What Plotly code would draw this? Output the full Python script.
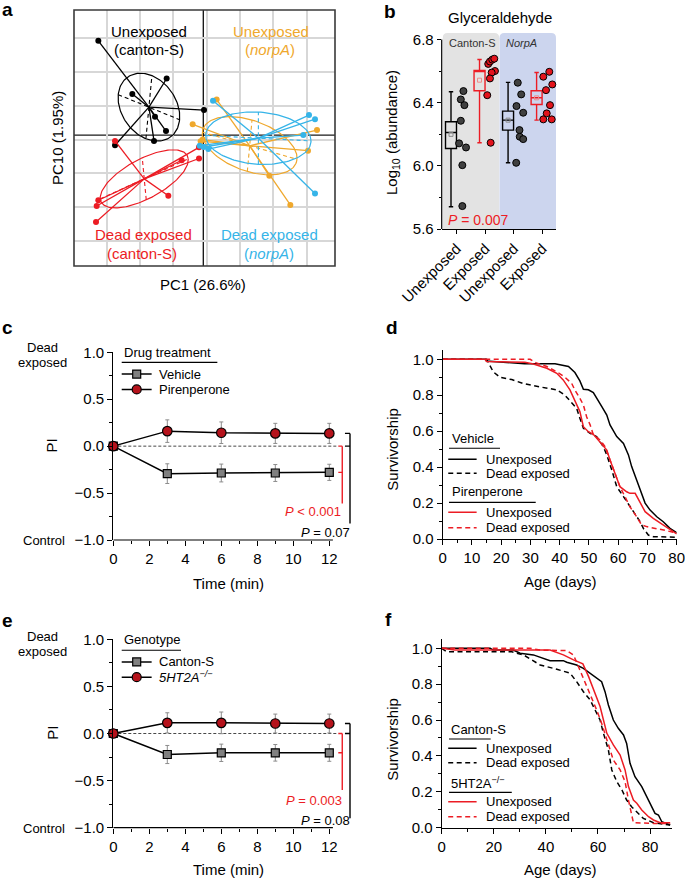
import numpy as np
import plotly.graph_objects as go

W, H = 685, 879
FONT = "Liberation Sans, Arial, Helvetica, sans-serif"
BLACK = "#000000"
RED = "#EC1C24"
ORANGE = "#EFA82D"
BLUE = "#36B4E8"
DOT_RED = "#E3141C"
DOT_GRAY = "#404040"
PIREN_FILL = "#B5121B"
VEH_FILL = "#808080"
ERR_GRAY = "#8C8C8C"

# ---------------- panel a : PCA scores ----------------
a_pc1_unexposed_canton = [-3.15, -1.10, -2.13, 0.02, -1.45, -1.12, -1.48, -2.65]
a_pc10_unexposed_canton = [2.78, 1.67, 1.21, 0.74, 0.54, 0.12, -0.17, -0.30]
a_pc1_dead_canton = [-2.65, -0.65, -0.13, -0.13, -1.05, -3.15, -3.20, -3.22]
a_pc10_dead_canton = [-0.17, -0.74, -0.69, -0.36, -1.79, -1.92, -2.09, -2.56]
a_pc1_unexposed_norpa = [0.40, -0.32, 3.41, 3.14, 1.98, 2.61, -0.08, -0.02]
a_pc10_unexposed_norpa = [1.05, 0.32, 0.15, -0.46, -1.20, -2.06, -0.18, -0.13]
a_pc1_dead_norpa = [0.29, 3.17, 3.35, 3.00, 3.35, 0.15, 0.01, -0.11]
a_pc10_dead_norpa = [1.01, 0.59, 0.47, 0.00, -1.72, -0.41, -0.35, -0.31]
# dispersion ellipses: two conjugate semi-diameters (PC1, PC10)
a_ell_unexposed_canton = [(0.92, -0.37), (0.09, 0.93)]
a_ell_dead_canton = [(1.32, 0.59), (-0.06, 0.62)]
a_ell_unexposed_norpa = [(1.42, -0.40), (0.07, 0.76)]
a_ell_dead_norpa = [(1.58, -0.08), (0.00, 0.77)]

# ---------------- panel b : glyceraldehyde ----------------
b_categories = ["Unexposed", "Exposed", "Unexposed", "Exposed"]
b_q1 = [6.110, 6.475, 6.226, 6.388]
b_median = [6.211, 6.597, 6.289, 6.431]
b_q3 = [6.279, 6.603, 6.346, 6.475]
b_lower = [5.741, 6.146, 6.019, 6.289]
b_upper = [6.469, 6.673, 6.528, 6.591]
b_mean = [6.199, 6.542, 6.289, 6.430]
b_canton_unexposed = [6.473, 6.420, 6.384, 6.285, 6.142, 6.116, 6.004, 5.745]
b_canton_exposed = [6.645, 6.660, 6.672, 6.678, 6.600, 6.590, 6.553, 6.447, 6.146]
b_norpa_unexposed = [6.526, 6.452, 6.378, 6.336, 6.226, 6.184, 6.169, 6.019]
b_norpa_exposed = [6.595, 6.564, 6.515, 6.479, 6.384, 6.332, 6.294, 6.294]
b_jitter_canton_unexposed = [0.235, 0.144, 0.27, 0.144, 0.084, 0.326, 0.197, 0.197]
b_jitter_canton_exposed = [0.105, 0.165, 0.245, 0.316, 0.34, 0.225, 0.165, 0.07, 0.19]
b_jitter_norpa_unexposed = [0.14, 0.26, 0.095, 0.33, 0.2, 0.21, 0.33, 0.085]
b_jitter_norpa_exposed = [0.245, 0.035, 0.35, 0.13, 0.27, 0.155, 0.035, 0.33]

# ---------------- panels c, e : preference index ----------------
time_min = [0, 3, 6, 9, 12]
pi_vehicle = [0, -0.293, -0.286, -0.286, -0.279]
pi_vehicle_err = [0, 0.105, 0.095, 0.090, 0.086]
pi_pirenperone = [0, 0.160, 0.143, 0.136, 0.136]
pi_pirenperone_err = [0, 0.120, 0.115, 0.107, 0.107]
pi_canton = [0, -0.223, -0.205, -0.205, -0.205]
pi_canton_err = [0, 0.096, 0.092, 0.088, 0.090]
pi_5ht2a = [0, 0.113, 0.113, 0.106, 0.106]
pi_5ht2a_err = [0, 0.107, 0.115, 0.100, 0.100]

# ---------------- panel d : survivorship (drug) ----------------
d_veh_unexp_day = [0, 14.5, 15, 28, 38.4, 41, 43, 45.2, 46.9, 48.1, 49.8, 51.5, 52.6, 54.4, 56.1, 57.2,
                   59.5, 61.8, 63.5, 64.6, 66.3, 67.5, 69.2, 70.9, 73.2, 75.4, 77.7, 80]
d_veh_unexp_surv = [1.0, 1.0, 0.99, 0.975, 0.975, 0.965, 0.96, 0.926, 0.88, 0.833, 0.83, 0.815, 0.783,
                    0.737, 0.69, 0.635, 0.57, 0.532, 0.468, 0.403, 0.328, 0.273, 0.2, 0.161, 0.124,
                    0.096, 0.059, 0.035]
d_veh_dead_day = [0, 15, 17.3, 19.6, 23.6, 27.6, 33.3, 39, 41.8, 44.1, 45.8, 46.9, 48.1, 50.4, 52.6,
                  54.9, 56.1, 57.8, 59.5, 61.8, 64, 65.8, 67.5, 68.6, 70.3, 72, 80]
d_veh_dead_surv = [1.0, 1.0, 0.93, 0.9, 0.887, 0.865, 0.846, 0.83, 0.8, 0.76, 0.727, 0.672, 0.616,
                   0.588, 0.57, 0.514, 0.468, 0.384, 0.291, 0.236, 0.18, 0.134, 0.096, 0.059, 0.022,
                   0.013, 0.01]
d_pir_unexp_day = [0, 14.5, 15, 28.1, 31, 35.6, 39, 41.2, 43.5, 45.2, 46.9, 48.1, 49.8, 51.5, 53.2,
                   54.9, 56.1, 57.2, 59, 60.6, 62.9, 64, 65.8, 67.5, 69.2, 72, 75.4, 78.9, 80]
d_pir_unexp_surv = [1.0, 1.0, 0.987, 0.983, 0.974, 0.95, 0.922, 0.885, 0.83, 0.774, 0.709, 0.625,
                    0.597, 0.583, 0.551, 0.518, 0.495, 0.44, 0.365, 0.291, 0.263, 0.254, 0.254,
                    0.199, 0.152, 0.115, 0.078, 0.041, 0.028]
d_pir_dead_day = [0, 29.9, 32, 35.6, 39, 41.8, 44.1, 45.2, 46.9, 48.1, 49.2, 50.4, 51.5, 53.8, 55.5,
                  57.2, 59, 60.6, 62.3, 64, 66.3, 68, 69.7, 73.2, 76.6, 80]
d_pir_dead_surv = [1.0, 1.0, 0.98, 0.96, 0.93, 0.9, 0.866, 0.829, 0.783, 0.746, 0.68, 0.635, 0.58,
                   0.551, 0.514, 0.44, 0.365, 0.291, 0.236, 0.18, 0.124, 0.078, 0.069, 0.059, 0.046,
                   0.032]

# ---------------- panel f : survivorship (genotype) ----------------
f_cs_unexp_day = [0, 18.6, 19.8, 27.5, 30.1, 35.2, 41.6, 46.7, 48, 51.8, 54.4, 57, 59.5, 61.4, 62.7,
                  64, 65.9, 67.8, 69.8, 71, 72.3, 74.2, 76.8, 78.7, 80.6, 81.9, 83.2, 84.5, 87.7]
f_cs_unexp_surv = [1.0, 1.0, 0.99, 0.99, 0.972, 0.963, 0.931, 0.931, 0.922, 0.907, 0.888, 0.86, 0.833,
                   0.814, 0.758, 0.684, 0.6, 0.554, 0.517, 0.47, 0.359, 0.284, 0.229, 0.173, 0.126,
                   0.08, 0.071, 0.033, 0.015]
f_cs_dead_day = [0, 1.9, 26.9, 31.4, 34.6, 37.8, 44.2, 49.3, 51.8, 54.4, 57, 58.9, 60.8, 62.1, 64,
                 65.3, 67.2, 69.2, 71, 72.9, 74.9, 77.4, 81.3, 87.7]
f_cs_dead_surv = [1.0, 0.98, 0.98, 0.963, 0.935, 0.907, 0.883, 0.861, 0.814, 0.758, 0.712, 0.656, 0.6,
                  0.526, 0.433, 0.322, 0.257, 0.21, 0.154, 0.117, 0.089, 0.052, 0.028, 0.015]
f_ht_unexp_day = [0, 5, 41.6, 46.7, 50.6, 54.2, 56.4, 58.9, 60.8, 62.1, 63.4, 65.9, 68.5, 70.4, 71.7,
                  73.6, 74.9, 76.8, 79.4, 81.3, 83.9, 87.7]
f_ht_unexp_surv = [1.0, 0.99, 0.99, 0.963, 0.935, 0.913, 0.842, 0.749, 0.675, 0.6, 0.526, 0.461, 0.405,
                   0.322, 0.229, 0.154, 0.136, 0.099, 0.061, 0.043, 0.028, 0.028]
f_ht_dead_day = [0, 33.9, 37.8, 48, 50.6, 52.5, 54.4, 57, 59.5, 61.4, 63.4, 65.9, 68.5, 70.4, 71.7,
                 73, 73.6, 81.3, 87.7]
f_ht_dead_surv = [1.0, 1.0, 0.99, 0.987, 0.963, 0.898, 0.833, 0.749, 0.656, 0.582, 0.489, 0.377,
                  0.322, 0.257, 0.154, 0.061, 0.028, 0.024, 0.024]


# ======================================================================
fig = go.Figure()


def dom_x(px0, px1):
    return [px0 / W, px1 / W]


def dom_y(py_bottom, py_top):
    return [1 - py_bottom / H, 1 - py_top / H]


# ---------- panel a traces ----------
def add_pca_group(pc1, pc10, ell, color):
    x = np.asarray(pc1, float)
    y = np.asarray(pc10, float)
    cx, cy = x.mean(), y.mean()
    sx, sy = [], []
    for xi, yi in zip(x, y):
        sx += [cx, xi, None]
        sy += [cy, yi, None]
    fig.add_trace(go.Scatter(x=sx, y=sy, mode="lines", line=dict(color=color, width=1.3),
                             xaxis="x", yaxis="y"))
    u, v = ell
    t = np.linspace(0, 2 * np.pi, 145)
    fig.add_trace(go.Scatter(x=cx + u[0] * np.cos(t) + v[0] * np.sin(t),
                             y=cy + u[1] * np.cos(t) + v[1] * np.sin(t),
                             mode="lines", line=dict(color=color, width=1.2), xaxis="x", yaxis="y"))
    fig.add_trace(go.Scatter(x=[cx - u[0], cx + u[0], None, cx - v[0], cx + v[0]],
                             y=[cy - u[1], cy + u[1], None, cy - v[1], cy + v[1]],
                             mode="lines", line=dict(color=color, width=1.1, dash="4px,3px"),
                             xaxis="x", yaxis="y"))
    fig.add_trace(go.Scatter(x=x, y=y, mode="markers", marker=dict(color=color, size=6),
                             xaxis="x", yaxis="y"))


add_pca_group(a_pc1_unexposed_canton, a_pc10_unexposed_canton, a_ell_unexposed_canton, BLACK)
add_pca_group(a_pc1_dead_canton, a_pc10_dead_canton, a_ell_dead_canton, RED)
add_pca_group(a_pc1_unexposed_norpa, a_pc10_unexposed_norpa, a_ell_unexposed_norpa, ORANGE)
add_pca_group(a_pc1_dead_norpa, a_pc10_dead_norpa, a_ell_dead_norpa, BLUE)

# ---------- panel b traces ----------
b_pos = [1, 2, 3, 4]
box_colors = [BLACK, RED, BLACK, RED]
mean_colors = ["#8A8A8A", "#F08A8A", "#8A8A8A", "#F08A8A"]
for i in range(4):
    fig.add_trace(go.Box(x=[b_pos[i] - 0.2], q1=[b_q1[i]], median=[b_median[i]], q3=[b_q3[i]],
                         lowerfence=[b_lower[i]], upperfence=[b_upper[i]], orientation="v",
                         width=0.385, whiskerwidth=0.4, boxpoints=False,
                         line=dict(color=box_colors[i], width=1.4), fillcolor="rgba(0,0,0,0)",
                         xaxis="x2", yaxis="y2"))
    fig.add_trace(go.Scatter(x=[b_pos[i] - 0.2], y=[b_mean[i]], mode="markers",
                             marker=dict(symbol="square-open", size=4, color=mean_colors[i],
                                         line=dict(width=1, color=mean_colors[i])),
                             xaxis="x2", yaxis="y2"))

dot_sets = [(b_canton_unexposed, b_jitter_canton_unexposed, DOT_GRAY),
            (b_canton_exposed, b_jitter_canton_exposed, DOT_RED),
            (b_norpa_unexposed, b_jitter_norpa_unexposed, DOT_GRAY),
            (b_norpa_exposed, b_jitter_norpa_exposed, DOT_RED)]
for i, (vals, jit, col) in enumerate(dot_sets):
    fig.add_trace(go.Scatter(x=[b_pos[i] + j for j in jit], y=vals, mode="markers",
                             marker=dict(size=7, color=col, line=dict(color=BLACK, width=1)),
                             xaxis="x2", yaxis="y2", cliponaxis=False))


# ---------- panels c, e traces ----------
def add_pi(vals, errs, symbol, fill, size, xa, ya):
    fig.add_trace(go.Scatter(x=time_min, y=vals, mode="lines+markers",
                             line=dict(color=BLACK, width=1.5),
                             marker=dict(symbol=symbol, size=size, color=fill,
                                         line=dict(color=BLACK, width=1.2)),
                             error_y=dict(type="data", array=errs, visible=True, color=ERR_GRAY,
                                          thickness=1, width=2),
                             xaxis=xa, yaxis=ya, cliponaxis=False))


add_pi(pi_vehicle, pi_vehicle_err, "square", VEH_FILL, 8, "x3", "y3")
add_pi(pi_pirenperone, pi_pirenperone_err, "circle", PIREN_FILL, 9.5, "x3", "y3")
add_pi(pi_canton, pi_canton_err, "square", VEH_FILL, 8, "x5", "y5")
add_pi(pi_5ht2a, pi_5ht2a_err, "circle", PIREN_FILL, 9.5, "x5", "y5")


# ---------- panels d, f traces ----------
def add_surv(day, surv, color, dash, xa, ya):
    fig.add_trace(go.Scatter(x=day, y=surv, mode="lines",
                             line=dict(color=color, width=1.5, dash=dash),
                             xaxis=xa, yaxis=ya, cliponaxis=False))


DASH = "5px,3.5px"
add_surv(d_veh_unexp_day, d_veh_unexp_surv, BLACK, "solid", "x4", "y4")
add_surv(d_veh_dead_day, d_veh_dead_surv, BLACK, DASH, "x4", "y4")
add_surv(d_pir_unexp_day, d_pir_unexp_surv, RED, "solid", "x4", "y4")
add_surv(d_pir_dead_day, d_pir_dead_surv, RED, DASH, "x4", "y4")
add_surv(f_cs_unexp_day, f_cs_unexp_surv, BLACK, "solid", "x6", "y6")
add_surv(f_cs_dead_day, f_cs_dead_surv, BLACK, DASH, "x6", "y6")
add_surv(f_ht_unexp_day, f_ht_unexp_surv, RED, "solid", "x6", "y6")
add_surv(f_ht_dead_day, f_ht_dead_surv, RED, DASH, "x6", "y6")

# ======================================================================
TICK = dict(ticks="outside", tickcolor=BLACK, tickwidth=1, showgrid=False, zeroline=False,
            automargin=False, ticklabeloverflow="allow",
            tickfont=dict(size=15, family=FONT, color=BLACK))
AXLINE = dict(showline=True, linecolor=BLACK, linewidth=1.2)

dom_a_x, dom_a_y = dom_x(74, 335), dom_y(266, 10)
dom_b_x, dom_b_y = dom_x(441.7, 556), dom_y(229, 33.1)
dom_c_x, dom_c_y = dom_x(113.3, 113.3 + 13.4 * 18), dom_y(540, 352.3)
dom_d_x, dom_d_y = dom_x(442.7, 676.7), dom_y(539, 350.3)
dom_e_x, dom_e_y = dom_c_x, dom_y(827.7, 639.3)
dom_f_x, dom_f_y = dom_x(441.7, 671.7), dom_y(827.7, 639.3)

layout = dict(
    template="none",
    width=W, height=H, autosize=False, showlegend=False,
    margin=dict(l=0, r=0, t=0, b=0, pad=0, autoexpand=False),
    paper_bgcolor="white", plot_bgcolor="rgba(0,0,0,0)",
    font=dict(family=FONT, size=15, color=BLACK),
    boxmode="overlay",
    xaxis=dict(domain=dom_a_x, range=[-3.88, 3.95], showgrid=True, gridcolor="#D7D7D7", gridwidth=1.5,
               tick0=0.1, dtick=1, showticklabels=False, ticks="", zeroline=False, showline=False,
               automargin=False, anchor="y"),
    yaxis=dict(domain=dom_a_y, range=[-3.86, 3.69], showgrid=True, gridcolor="#D7D7D7", gridwidth=1.5,
               tick0=-0.13, dtick=1, showticklabels=False, ticks="", zeroline=False, showline=False,
               automargin=False, anchor="x"),
    xaxis2=dict(domain=dom_b_x, range=[0.474, 4.48], tickmode="array", tickvals=b_pos,
                ticktext=b_categories, tickangle=-45, ticklen=4, anchor="y2", **TICK, **AXLINE),
    yaxis2=dict(domain=dom_b_y, range=[5.6, 6.84], tickmode="array", tickvals=[5.6, 6.0, 6.4, 6.8],
                tickformat=".1f", ticklen=4, anchor="x2", showline=False,
                minor=dict(tickvals=[5.8, 6.2, 6.6], ticks="outside", ticklen=2, tickcolor=BLACK),
                **TICK),
    xaxis3=dict(domain=dom_c_x, range=[0, 13.4], tickmode="array", tickvals=[0, 2, 4, 6, 8, 10, 12],
                ticklen=5, anchor="y3", showline=False,
                minor=dict(tickvals=[1, 3, 5, 7, 9, 11], ticks="outside", ticklen=3, tickcolor=BLACK),
                **TICK),
    yaxis3=dict(domain=dom_c_y, range=[-1, 1], tickmode="array", tickvals=[-1, -0.5, 0, 0.5, 1],
                tickformat=".1f", ticklen=5, anchor="x3",
                minor=dict(tick0=0, dtick=0.25, ticks="outside", ticklen=3, tickcolor=BLACK),
                **TICK, **AXLINE),
    xaxis4=dict(domain=dom_d_x, range=[0, 80], tickmode="array",
                tickvals=[0, 10, 20, 30, 40, 50, 60, 70, 80], ticklen=5, anchor="y4",
                minor=dict(tick0=0, dtick=5, ticks="outside", ticklen=3, tickcolor=BLACK),
                **TICK, **AXLINE),
    yaxis4=dict(domain=dom_d_y, range=[0, 1.05], tickmode="array",
                tickvals=[0, 0.2, 0.4, 0.6, 0.8, 1.0], tickformat=".1f", ticklen=5, anchor="x4",
                minor=dict(tick0=0, dtick=0.1, ticks="outside", ticklen=3, tickcolor=BLACK),
                **TICK, **AXLINE),
    xaxis5=dict(domain=dom_e_x, range=[0, 13.4], tickmode="array", tickvals=[0, 2, 4, 6, 8, 10, 12],
                ticklen=5, anchor="y5", showline=False,
                minor=dict(tickvals=[1, 3, 5, 7, 9, 11], ticks="outside", ticklen=3, tickcolor=BLACK),
                **TICK),
    yaxis5=dict(domain=dom_e_y, range=[-1, 1], tickmode="array", tickvals=[-1, -0.5, 0, 0.5, 1],
                tickformat=".1f", ticklen=5, anchor="x5",
                minor=dict(tick0=0, dtick=0.25, ticks="outside", ticklen=3, tickcolor=BLACK),
                **TICK, **AXLINE),
    xaxis6=dict(domain=dom_f_x, range=[0, 88.3], tickmode="array", tickvals=[0, 20, 40, 60, 80],
                ticklen=5, anchor="y6",
                minor=dict(tickvals=[10, 30, 50, 70], ticks="outside", ticklen=3, tickcolor=BLACK),
                **TICK, **AXLINE),
    yaxis6=dict(domain=dom_f_y, range=[0, 1.05], tickmode="array",
                tickvals=[0, 0.2, 0.4, 0.6, 0.8, 1.0], tickformat=".1f", ticklen=5, anchor="x6",
                minor=dict(tick0=0, dtick=0.1, ticks="outside", ticklen=3, tickcolor=BLACK),
                **TICK, **AXLINE),
)
fig.update_layout(**layout)

# ======================================================================
shapes = []


def line_shape(xref, yref, x0, y0, x1, y1, color=BLACK, width=1.5, dash=None, layer="above"):
    d = dict(type="line", xref=xref, yref=yref, x0=x0, y0=y0, x1=x1, y1=y1,
             line=dict(color=color, width=width), layer=layer)
    if dash:
        d["line"]["dash"] = dash
    return d


def glyph(kind, xref, yref, x, y, size, fill):
    h = size / 2
    return dict(type=kind, xref=xref, yref=yref, xsizemode="pixel", ysizemode="pixel",
                xanchor=x, yanchor=y, x0=-h, x1=h, y0=-h, y1=h, fillcolor=fill,
                line=dict(color=BLACK, width=1.2), layer="above")


# panel a frame and zero axes
shapes.append(dict(type="rect", xref="paper", yref="paper", x0=dom_a_x[0], x1=dom_a_x[1],
                   y0=dom_a_y[0], y1=dom_a_y[1], line=dict(color="#3A3A3A", width=1.6), layer="above"))
shapes.append(line_shape("x", "paper", 0, dom_a_y[0], 0, dom_a_y[1], color="#1A1A1A", width=1.4, layer="below"))
shapes.append(line_shape("paper", "y", dom_a_x[0], 0, dom_a_x[1], 0, color="#1A1A1A", width=1.4, layer="below"))


# panel b backgrounds (rounded top corners)
def rounded_top(x0, x1, y0, y1, rx, ry):
    return (f"M {x0},{y0} L {x0},{y1 - ry} Q {x0},{y1} {x0 + rx},{y1} L {x1 - rx},{y1} "
            f"Q {x1},{y1} {x1},{y1 - ry} L {x1},{y0} Z")


shapes.append(dict(type="path", xref="x2", yref="y2", path=rounded_top(0.51, 2.49, 5.6, 6.84, 0.17, 0.032),
                   fillcolor="#E3E3E3", line=dict(width=0), layer="below"))
shapes.append(dict(type="path", xref="x2", yref="y2", path=rounded_top(2.50, 4.48, 5.6, 6.84, 0.17, 0.032),
                   fillcolor="#CCD5EE", line=dict(width=0), layer="below"))
shapes.append(line_shape("paper", "y2", dom_b_x[0], 5.6, dom_b_x[0], 6.8, width=1.2))

# panels c / e : x-axis line, zero line, brackets
for xa, ya, dom_yy, mid_red, bot_red, top_blk, bot_blk in [
        ("x3", "y3", dom_c_y, pi_vehicle[-1], -0.61, pi_pirenperone[-1], -0.824),
        ("x5", "y5", dom_e_y, pi_canton[-1], -0.60, pi_5ht2a[-1], -0.90)]:
    shapes.append(line_shape(xa, "paper", 0, dom_yy[0], 12.2, dom_yy[0], width=1.2))
    shapes.append(line_shape(xa, ya, 0, 0, 12.5, 0, color="#333333", width=0.9, dash="3px,2px", layer="below"))
    # red bracket
    shapes.append(line_shape(xa, ya, 12.72, 0.0, 12.72, bot_red, color=RED, width=1.4))
    shapes.append(line_shape(xa, ya, 12.5, 0.0, 12.72, 0.0, color=RED, width=1.4))
    shapes.append(line_shape(xa, ya, 12.5, mid_red, 12.72, mid_red, color=RED, width=1.4))
    # black bracket
    shapes.append(line_shape(xa, ya, 13.15, top_blk, 13.15, bot_blk, width=1.4))
    shapes.append(line_shape(xa, ya, 12.87, top_blk, 13.15, top_blk, width=1.4))
    shapes.append(line_shape(xa, ya, 12.87, 0.0, 13.15, 0.0, width=1.4))

# legend c
shapes.append(line_shape("x3", "y3", 0.467, 0.893, 5.78, 0.893, width=1.1))
shapes.append(line_shape("x3", "y3", 0.467, 0.768, 2.13, 0.768, width=1.5))
shapes.append(glyph("rect", "x3", "y3", 1.3, 0.768, 8, VEH_FILL))
shapes.append(line_shape("x3", "y3", 0.467, 0.604, 2.13, 0.604, width=1.5))
shapes.append(glyph("circle", "x3", "y3", 1.3, 0.604, 9, PIREN_FILL))
# legend e
shapes.append(line_shape("x5", "y5", 0.467, 0.884, 3.76, 0.884, width=1.1))
shapes.append(line_shape("x5", "y5", 0.467, 0.76, 2.13, 0.76, width=1.5))
shapes.append(glyph("rect", "x5", "y5", 1.3, 0.76, 8, VEH_FILL))
shapes.append(line_shape("x5", "y5", 0.467, 0.598, 2.13, 0.598, width=1.5))
shapes.append(glyph("circle", "x5", "y5", 1.3, 0.598, 9, PIREN_FILL))

# legend d
shapes.append(line_shape("x4", "y4", 2.15, 0.505, 19.6, 0.505, width=1.1))
shapes.append(line_shape("x4", "y4", 1.9, 0.4435, 11.6, 0.4435, width=1.5))
shapes.append(line_shape("x4", "y4", 1.9, 0.366, 11.6, 0.366, width=1.5, dash=DASH))
shapes.append(line_shape("x4", "y4", 2.15, 0.204, 31.8, 0.204, width=1.1))
shapes.append(line_shape("x4", "y4", 1.9, 0.149, 11.6, 0.149, color=RED, width=1.5))
shapes.append(line_shape("x4", "y4", 1.9, 0.063, 11.6, 0.063, color=RED, width=1.5, dash=DASH))
# legend f
shapes.append(line_shape("x6", "y6", 2.8, 0.494, 18.8, 0.494, width=1.1))
shapes.append(line_shape("x6", "y6", 2.5, 0.443, 13.4, 0.443, width=1.5))
shapes.append(line_shape("x6", "y6", 2.5, 0.362, 13.4, 0.362, width=1.5, dash=DASH))
shapes.append(line_shape("x6", "y6", 2.8, 0.197, 26.9, 0.197, width=1.1))
shapes.append(line_shape("x6", "y6", 2.5, 0.145, 13.4, 0.145, color=RED, width=1.5))
shapes.append(line_shape("x6", "y6", 2.5, 0.061, 13.4, 0.061, color=RED, width=1.5, dash=DASH))

fig.update_layout(shapes=shapes)

# ======================================================================
anns = []


def txt(text, px, py, size=15, color=BLACK, xa="center", ya="middle", angle=0, weight="normal"):
    anns.append(dict(text=text, x=px / W, y=1 - py / H, xref="paper", yref="paper", showarrow=False,
                     xanchor=xa, yanchor=ya, textangle=angle,
                     font=dict(family=FONT, size=size, color=color, weight=weight)))


def dtxt(text, xref, yref, x, y, size=13, color=BLACK, xa="left", ya="middle"):
    anns.append(dict(text=text, x=x, y=y, xref=xref, yref=yref, showarrow=False,
                     xanchor=xa, yanchor=ya, font=dict(family=FONT, size=size, color=color)))


# panel letters
for letter, px, py in [("a", 0, 10), ("b", 382, 11), ("c", 0, 328), ("d", 384, 327),
                       ("e", 0, 620), ("f", 383, 619)]:
    txt(letter, px, py, size=19, xa="left", weight="bold")

# panel a
txt("Unexposed", 148.5, 31.7, color=BLACK)
txt("(canton-S)", 148.5, 49.3, color=BLACK)
txt("Unexposed", 270.8, 31.7, color=ORANGE)
txt("(<i>norpA</i>)", 269.7, 49.3, color=ORANGE)
txt("Dead exposed", 143.3, 234.3, color=RED)
txt("(canton-S)", 142.3, 253.3, color=RED)
txt("Dead exposed", 269.3, 234.3, color=BLUE)
txt("(<i>norpA</i>)", 269.2, 253.3, color=BLUE)
txt("PC1 (26.6%)", 203, 285)
txt("PC10 (1.95%)", 57, 138, angle=-90)

# panel b
txt("Glyceraldehyde", 500, 18)
txt("Canton-S", 446.5, 43, size=11, color="#333333", xa="left")
txt("<i>NorpA</i>", 504, 43, size=11, color="#333333", xa="left")
txt("<i>P</i> = 0.007", 446, 220, size=14, color=RED, xa="left")
txt("Log<sub>10</sub> (abundance)", 392.5, 132.5, angle=-90)

# panel c
txt("PI", 51.7, 445.7, angle=-90)
txt("Dead", 42.7, 347.3, size=13)
txt("exposed", 42.7, 362.3, size=13)
txt("Control", 66.7, 540, size=13, xa="right")
txt("Time (min)", 228, 583.2)
dtxt("Drug treatment", "x3", "y3", 0.47, 1.0)
dtxt("Vehicle", "x3", "y3", 2.41, 0.768)
dtxt("Pirenperone", "x3", "y3", 2.41, 0.604)
dtxt("<i>P</i> &lt; 0.001", "x3", "y3", 12.78, -0.70, color=RED, xa="right")
dtxt("<i>P</i> = 0.07", "x3", "y3", 13.24, -0.924, xa="right")

# panel e
txt("PI", 51.7, 733, angle=-90)
txt("Dead", 42.7, 636, size=13)
txt("exposed", 42.7, 651.7, size=13)
txt("Control", 66.7, 828.3, size=13, xa="right")
txt("Time (min)", 228, 869.5)
dtxt("Genotype", "x5", "y5", 0.47, 1.0)
dtxt("Canton-S", "x5", "y5", 2.41, 0.76)
dtxt("<i>5HT2A</i><sup><i>−/−</i></sup>", "x5", "y5", 2.41, 0.598)
dtxt("<i>P</i> = 0.003", "x5", "y5", 12.82, -0.708, color=RED, xa="right")
dtxt("<i>P</i> = 0.08", "x5", "y5", 13.24, -0.92, xa="right")

# panel d
txt("Survivorship", 391.7, 449, angle=-90)
txt("Age (days)", 560, 581.5)
dtxt("Vehicle", "x4", "y4", 2.5, 0.56)
dtxt("Unexposed", "x4", "y4", 14.2, 0.4435)
dtxt("Dead exposed", "x4", "y4", 14.2, 0.366)
dtxt("Pirenperone", "x4", "y4", 2.5, 0.263)
dtxt("Unexposed", "x4", "y4", 14.2, 0.149)
dtxt("Dead exposed", "x4", "y4", 14.2, 0.063)

# panel f
txt("Survivorship", 391.7, 739, angle=-90)
txt("Age (days)", 560, 869.5)
dtxt("Canton-S", "x6", "y6", 2.8, 0.545)
dtxt("Unexposed", "x6", "y6", 16.4, 0.443)
dtxt("Dead exposed", "x6", "y6", 16.4, 0.362)
dtxt("5HT2A<sup>−/−</sup>", "x6", "y6", 2.8, 0.247)
dtxt("Unexposed", "x6", "y6", 16.4, 0.145)
dtxt("Dead exposed", "x6", "y6", 16.4, 0.061)

fig.update_layout(annotations=anns)

fig.write_html("out.html", include_plotlyjs=True, full_html=True,
               config={"displayModeBar": False},
               post_script="document.body.style.margin='0px';document.body.style.overflow='hidden';")
